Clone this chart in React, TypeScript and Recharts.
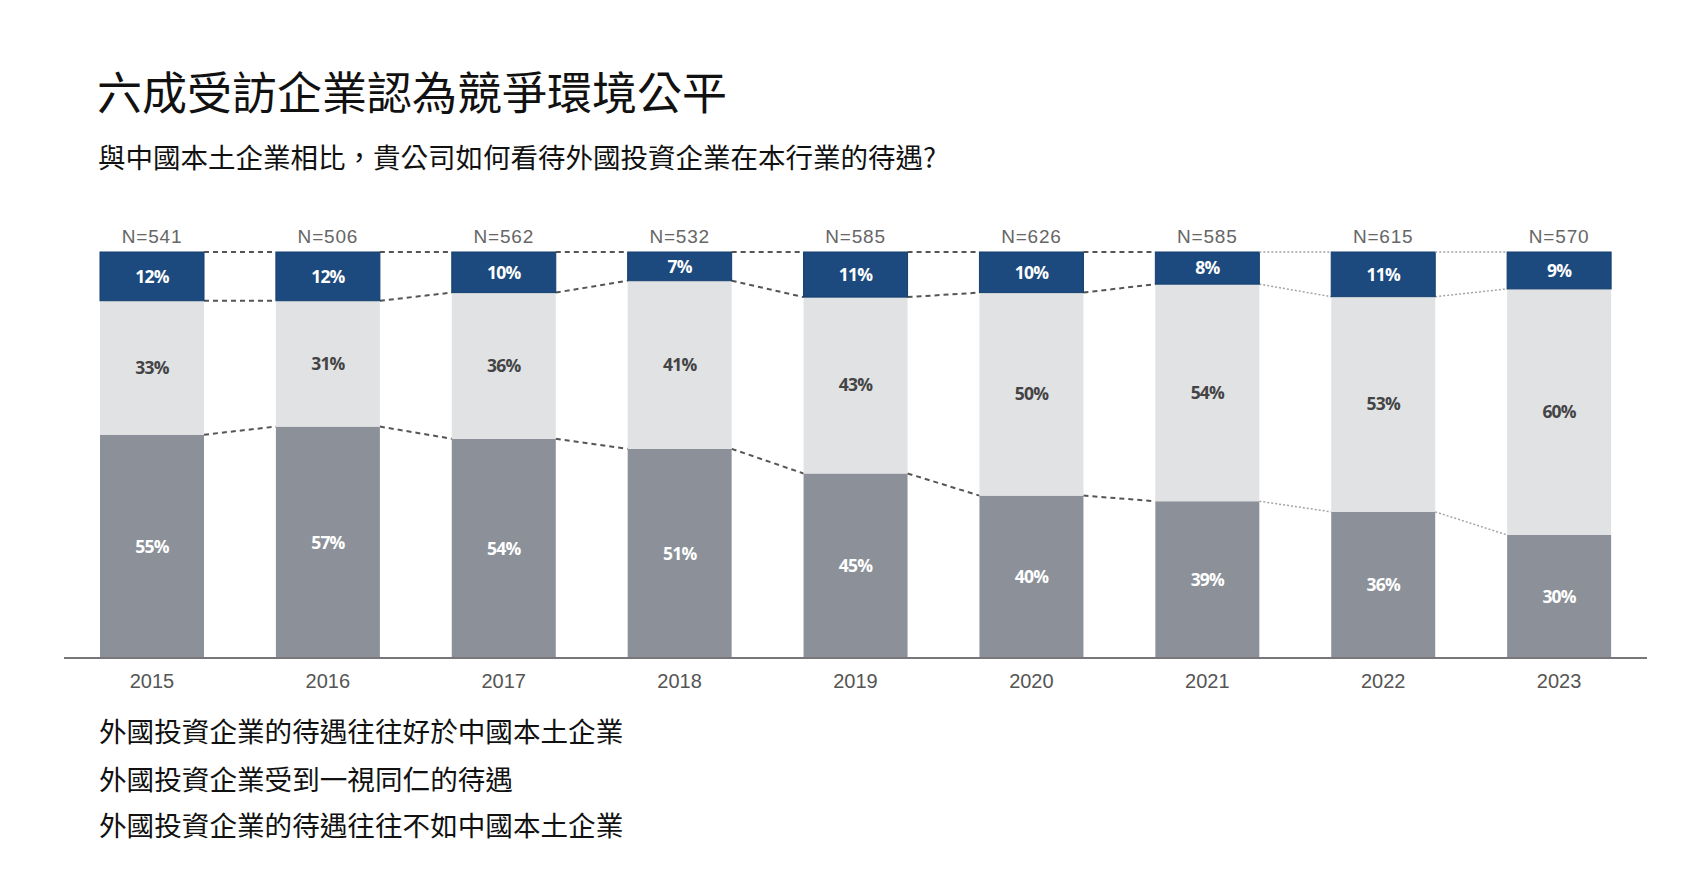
import React from "react";
import { BarChart, Bar, XAxis, YAxis, LabelList } from "recharts";

const years = ["2015", "2016", "2017", "2018", "2019", "2020", "2021", "2022", "2023"];
const better = [12, 12, 10, 7, 11, 10, 8, 11, 9];
const same = [33, 31, 36, 41, 43, 50, 54, 53, 60];
const worse = [55, 57, 54, 51, 45, 40, 39, 36, 30];
const sampleSizes = [541, 506, 562, 532, 585, 626, 585, 615, 570];

const legendLabels = [
  "外國投資企業的待遇往往好於中國本土企業",
  "外國投資企業受到一視同仁的待遇",
  "外國投資企業的待遇往往不如中國本土企業",
];

const chartData = years.map((year, i) => ({
  year,
  better: better[i],
  same: same[i],
  worse: worse[i],
  n: sampleSizes[i],
}));

const CJK = '"Noto Sans CJK TC", "Noto Sans CJK SC", sans-serif';
const LATIN = '"Liberation Sans", Arial, sans-serif';
const LABEL_FONT = '"Open Sans", "Noto Sans", sans-serif';

// last two gaps use a lighter dotted connector in the original
const lightGapFrom = 6;

// remembers the previous bar of each series so the connector can be drawn to it
const lastBar: Record<string, { x: number; y: number; w: number }> = {};

function makeShape(key: string, fill: string, stroke?: string) {
  return (props: any) => {
    const { x, y, width, height, index } = props;
    const prev = lastBar[key];
    let connector = null;
    if (prev && prev.x < x) {
      const light = (index ?? 0) - 1 >= lightGapFrom;
      connector = (
        <line
          x1={prev.x + prev.w}
          y1={prev.y}
          x2={x}
          y2={y}
          stroke={light ? "#a5a5a5" : "#555"}
          strokeWidth={light ? 1.5 : 2}
          strokeDasharray={light ? "2 2" : "5 4"}
        />
      );
    }
    lastBar[key] = { x, y, w: width };
    return (
      <g>
        <rect x={x} y={y} width={width} height={height} fill={fill} stroke={stroke ?? "none"} strokeWidth={stroke ? 1 : 0} />
        {connector}
      </g>
    );
  };
}

const pctLabel = (fill: string) => ({
  fill,
  fontSize: 17.5,
  fontWeight: 700,
  fontFamily: LABEL_FONT,
  letterSpacing: -0.8,
});

export default function App() {
  return (
    <div style={{ position: "absolute", left: 0, top: 0, width: 1704, height: 872, background: "#fff", fontFamily: CJK, color: "#111" }}>
      <div style={{ position: "absolute", left: 97, top: 68, fontSize: 45, lineHeight: "45px", whiteSpace: "nowrap" }}>
        六成受訪企業認為競爭環境公平
      </div>
      <div style={{ position: "absolute", left: 98, top: 142, fontSize: 27.5, lineHeight: "28px", whiteSpace: "nowrap" }}>
        與中國本土企業相比，貴公司如何看待外國投資企業在本行業的待遇?
      </div>

      <div style={{ position: "absolute", left: 0, top: 0 }}>
        <BarChart
          width={1704}
          height={720}
          data={chartData}
          stackOffset="expand"
          margin={{ top: 252, right: 57, left: 64, bottom: 0 }}
        >
          <XAxis
            dataKey="year"
            height={62}
            axisLine={{ stroke: "#777", strokeWidth: 2 }}
            tickLine={false}
            tickMargin={10}
            tick={{ fill: "#555", fontSize: 20, fontFamily: LATIN }}
          />
          <YAxis hide domain={[0, 1]} />
          <Bar dataKey="worse" stackId="a" barSize={104} shape={makeShape("worse", "#8c9199")} isAnimationActive={false}>
            <LabelList dataKey="worse" position="center" formatter={(v: any) => `${v}%`} style={pctLabel("#fff")} />
          </Bar>
          <Bar dataKey="same" stackId="a" barSize={104} shape={makeShape("same", "#e1e2e4")} isAnimationActive={false}>
            <LabelList dataKey="same" position="center" formatter={(v: any) => `${v}%`} style={pctLabel("#444")} />
          </Bar>
          <Bar dataKey="better" stackId="a" barSize={104} shape={makeShape("better", "#1c4a7e", "#133f6e")} isAnimationActive={false}>
            <LabelList dataKey="better" position="center" formatter={(v: any) => `${v}%`} style={pctLabel("#fff")} />
            <LabelList
              dataKey="n"
              position="top"
              offset={9}
              formatter={(v: any) => `N=${v}`}
              style={{ fill: "#666", fontSize: 19, fontFamily: LATIN, fontWeight: 400, letterSpacing: 0.8 }}
            />
          </Bar>
        </BarChart>
      </div>

      {legendLabels.map((label, i) => (
        <div
          key={label}
          style={{ position: "absolute", left: 99, top: 716 + [0, 48, 94][i], fontSize: 27.6, lineHeight: "28px", whiteSpace: "nowrap" }}
        >
          {label}
        </div>
      ))}
    </div>
  );
}
